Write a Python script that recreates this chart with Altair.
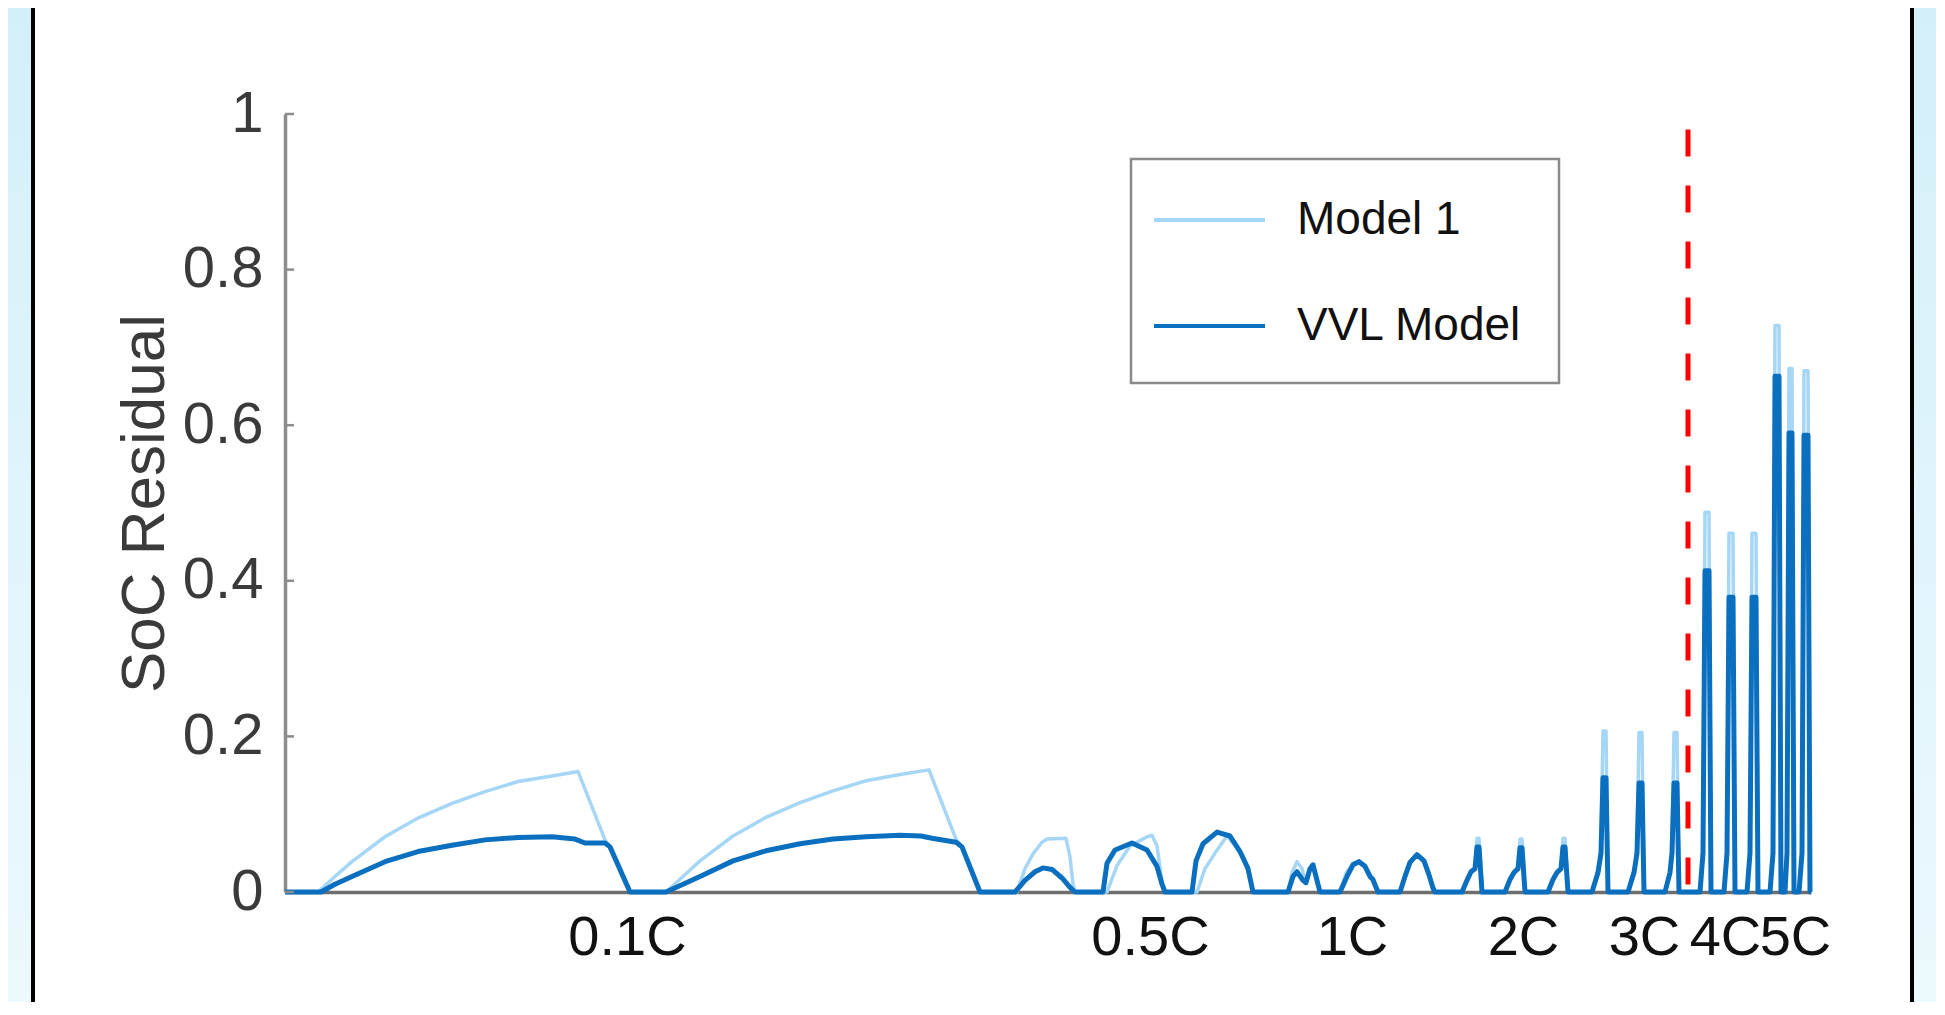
import altair as alt
import pandas as pd

# ---- data (t = position along the test sequence, arbitrary units) ----
vvl_t = [0, 36, 50, 67, 100, 133, 167, 200, 233, 267, 290, 300, 320, 325, 345,
         381, 398, 415, 448, 481, 515, 548, 581, 615, 636, 647, 671, 677, 695,
         730, 740, 750, 758, 767, 777, 785, 790,
         818, 822, 830, 847, 862, 872, 877, 880,
         907, 911, 918, 932, 945, 955, 963, 968,
         1003, 1008, 1012, 1018, 1021, 1025, 1028, 1032, 1035,
         1055, 1062, 1068, 1074, 1080, 1085, 1088, 1091, 1093,
         1115, 1120, 1125, 1132, 1139, 1144, 1148, 1150,
         1177, 1182, 1186, 1190, 1192, 1194, 1197,
         1220, 1225, 1229, 1233, 1235, 1237, 1240,
         1263, 1268, 1272, 1276, 1278, 1280, 1283,
         1307, 1313, 1316, 1318, 1321, 1323,
         1343, 1349, 1352, 1354, 1357, 1359,
         1380, 1385, 1387, 1389, 1392, 1394,
         1415, 1418, 1420, 1424, 1426,
         1439, 1442, 1444, 1448, 1450,
         1462, 1465, 1467, 1471, 1473,
         1485, 1488, 1490, 1494, 1496,
         1500, 1502, 1504, 1507, 1509,
         1514, 1517, 1519, 1523, 1525, 1526]
vvl_soc = [0, 0, 0.010, 0.020, 0.039, 0.052, 0.060, 0.067, 0.070, 0.071, 0.068, 0.063, 0.063, 0.058, 0,
           0, 0.010, 0.020, 0.040, 0.053, 0.062, 0.068, 0.071, 0.073, 0.072, 0.069, 0.064, 0.058, 0,
           0, 0.015, 0.026, 0.031, 0.029, 0.018, 0.006, 0,
           0, 0.037, 0.054, 0.063, 0.054, 0.033, 0.010, 0,
           0, 0.040, 0.062, 0.077, 0.072, 0.052, 0.030, 0,
           0, 0.020, 0.026, 0.015, 0.012, 0.030, 0.035, 0.015, 0,
           0, 0.020, 0.035, 0.039, 0.033, 0.020, 0.016, 0.006, 0,
           0, 0.020, 0.038, 0.048, 0.040, 0.022, 0.005, 0,
           0, 0.015, 0.026, 0.030, 0.058, 0.058, 0,
           0, 0.016, 0.025, 0.030, 0.057, 0.057, 0,
           0, 0.016, 0.025, 0.030, 0.058, 0.058, 0,
           0, 0.025, 0.050, 0.147, 0.147, 0,
           0, 0.025, 0.050, 0.140, 0.140, 0,
           0, 0.025, 0.050, 0.140, 0.140, 0,
           0, 0.050, 0.413, 0.413, 0,
           0, 0.050, 0.379, 0.379, 0,
           0, 0.050, 0.379, 0.379, 0,
           0, 0.050, 0.663, 0.663, 0,
           0, 0.050, 0.590, 0.590, 0,
           0, 0.050, 0.587, 0.587, 0, 0]

m1_t = [0, 33, 50, 67, 100, 133, 167, 200, 233, 267, 293, 320, 325, 345,
        381, 398, 415, 448, 481, 515, 548, 581, 615, 644, 671, 677, 695,
        730, 732, 740, 748, 757, 762, 781, 785, 788, 790,
        818, 822, 832, 845, 862, 867, 872, 878, 880,
        907, 912, 920, 930, 942, 955, 963, 968,
        1003, 1007, 1012, 1017, 1020, 1025, 1028, 1032, 1035,
        1055, 1061, 1068, 1074, 1080, 1086, 1093,
        1115, 1121, 1126, 1132, 1139, 1145, 1150,
        1177, 1182, 1186, 1190, 1192, 1194, 1197,
        1220, 1225, 1229, 1233, 1235, 1237, 1240,
        1263, 1268, 1272, 1276, 1278, 1280, 1283,
        1307, 1313, 1316, 1318, 1321, 1323,
        1343, 1349, 1352, 1354, 1357, 1359,
        1380, 1385, 1387, 1389, 1392, 1394,
        1415, 1418, 1420, 1424, 1426,
        1439, 1442, 1444, 1448, 1450,
        1462, 1465, 1467, 1471, 1473,
        1485, 1488, 1490, 1494, 1496,
        1500, 1502, 1504, 1507, 1509,
        1514, 1517, 1519, 1523, 1525, 1526]
m1_soc = [0, 0, 0.020, 0.039, 0.071, 0.095, 0.114, 0.129, 0.142, 0.149, 0.155, 0.067, 0.058, 0,
          0, 0.020, 0.040, 0.072, 0.096, 0.115, 0.130, 0.143, 0.151, 0.157, 0.068, 0.058, 0,
          0, 0, 0.030, 0.049, 0.064, 0.068, 0.069, 0.045, 0.010, 0,
          0, 0, 0.034, 0.059, 0.071, 0.073, 0.059, 0.005, 0,
          0, 0, 0.030, 0.050, 0.072, 0.052, 0.030, 0,
          0, 0.025, 0.039, 0.030, 0.015, 0.030, 0.035, 0.015, 0,
          0, 0.024, 0.037, 0.040, 0.033, 0.018, 0,
          0, 0.025, 0.040, 0.047, 0.040, 0.020, 0,
          0, 0.016, 0.027, 0.031, 0.069, 0.069, 0,
          0, 0.017, 0.026, 0.031, 0.068, 0.068, 0,
          0, 0.016, 0.026, 0.031, 0.069, 0.069, 0,
          0, 0.027, 0.055, 0.207, 0.207, 0,
          0, 0.027, 0.055, 0.205, 0.205, 0,
          0, 0.027, 0.055, 0.205, 0.205, 0,
          0, 0.055, 0.488, 0.488, 0,
          0, 0.055, 0.461, 0.461, 0,
          0, 0.055, 0.461, 0.461, 0,
          0, 0.055, 0.728, 0.728, 0,
          0, 0.055, 0.673, 0.673, 0,
          0, 0.055, 0.670, 0.670, 0, 0]

series_names = ["Model 1", "VVL Model"]
series_colors = ["#a6d6f6", "#0b6fbf"]

xlabel_pos = [342, 865, 1067, 1238, 1359, 1440, 1510]
xlabel_txt = ["0.1C", "0.5C", "1C", "2C", "3C", "4C", "5C"]
ytick_vals = [0, 0.2, 0.4, 0.6, 0.8, 1.0]

divider_t = [1403]
divider_top = [0.98]
divider_bottom = [0.0]

x_domain = [0, 1526]
y_domain = [0, 1]

# ---- build tables ----
df_m1 = pd.DataFrame({"t": m1_t, "soc": m1_soc, "model": series_names[0]})
df_vvl = pd.DataFrame({"t": vvl_t, "soc": vvl_soc, "model": series_names[1]})
df_ticks = pd.DataFrame({"soc": ytick_vals})
df_div = pd.DataFrame({"t": divider_t, "soc": divider_top, "soc_end": divider_bottom})
df_one = pd.DataFrame({"a": [0]})

label_expr = " : ".join(f"datum.value == {p} ? '{s}'" for p, s in zip(xlabel_pos, xlabel_txt)) + " : ''"

FONT = "Liberation Sans"

x_enc = alt.X("t:Q", scale=alt.Scale(domain=x_domain, nice=False, zero=False),
              axis=alt.Axis(values=xlabel_pos, labelExpr=label_expr, ticks=False, grid=False,
                            title=None, domainColor="#6e6e6e", domainWidth=3.5,
                            labelFontSize=56, labelColor="#111111", labelPadding=18,
                            labelOverlap=False, labelFont=FONT))
y_enc = alt.Y("soc:Q", scale=alt.Scale(domain=y_domain, nice=False),
              axis=alt.Axis(values=ytick_vals, format="~g", ticks=False, grid=False,
                            title="SoC Residual", titleFontSize=62, titleFontWeight="normal",
                            titleColor="#3a3a3a", titlePadding=6, titleFont=FONT,
                            domainColor="#8c8c8c", domainWidth=3.5,
                            labelFontSize=58, labelColor="#3a3a3a", labelPadding=22,
                            labelFont=FONT))

# an invisible spacer title at the bottom of the legend widens and heightens the box
legend_spacer = "x" * 54

color_enc = alt.Color("model:N",
                      scale=alt.Scale(domain=series_names, range=series_colors),
                      legend=alt.Legend(title=legend_spacer, titleOrient="bottom", titleFontSize=14,
                                        titlePadding=16, titleColor="#ffffff", titleOpacity=0,
                                        titleLimit=1000, titleFont=FONT,
                                        orient="none", legendX=846, legendY=45,
                                        symbolType="stroke", symbolSize=12321,
                                        symbolStrokeWidth=4, labelFontSize=46,
                                        labelOffset=30, padding=3.5, symbolOffset=17.5,
                                        rowPadding=25, labelLimit=800,
                                        strokeColor="#8a8a8a", fillColor="white",
                                        labelColor="#111111", labelFont=FONT))

strip_fill = alt.LinearGradient(
    gradient="linear",
    stops=[alt.GradientStop(color="#d3eff9", offset=0),
           alt.GradientStop(color="#ecf9fd", offset=1)],
    x1=0, x2=0, y1=0, y2=1)

# side strips of the slide frame
strip_left = alt.Chart(df_one).mark_rect(fill=strip_fill).encode(
    x=alt.value(-300), x2=alt.value(-252), y=alt.value(-120), y2=alt.value(900))
strip_right = alt.Chart(df_one).mark_rect(fill=strip_fill).encode(
    x=alt.value(1627), x2=alt.value(1700), y=alt.value(-120), y2=alt.value(900))
edge_left = alt.Chart(df_one).mark_rule(color="black", strokeWidth=4).encode(
    x=alt.value(-252), y=alt.value(-120), y2=alt.value(900))
edge_right = alt.Chart(df_one).mark_rule(color="black", strokeWidth=4).encode(
    x=alt.value(1627), y=alt.value(-120), y2=alt.value(900))

line_m1 = alt.Chart(df_m1).mark_line(strokeWidth=3.5, strokeJoin="round").encode(
    x=x_enc, y=y_enc, color=color_enc)
line_vvl = alt.Chart(df_vvl).mark_line(strokeWidth=5, strokeJoin="round").encode(
    x="t:Q", y="soc:Q", color=color_enc)

ticks = alt.Chart(df_ticks).mark_rule(color="#8c8c8c", strokeWidth=2.5).encode(
    y="soc:Q", x=alt.value(0), x2=alt.value(9))

divider = alt.Chart(df_div).mark_rule(color="#ff0000", strokeWidth=5, strokeDash=[27, 29]).encode(
    x="t:Q", y="soc:Q", y2="soc_end:Q")

chart = alt.layer(strip_left, strip_right, edge_left, edge_right,
                  line_m1, line_vvl, ticks, divider).properties(
    width=1526, height=778,
    autosize=alt.AutoSizeParams(type="none"),
    padding={"left": 277, "top": 106, "right": 125, "bottom": 110},
    background="white",
).configure_view(stroke=None).configure_legend(strokeWidth=2.5)

chart.save("out.html", embed_options={"renderer": "svg", "actions": False})
